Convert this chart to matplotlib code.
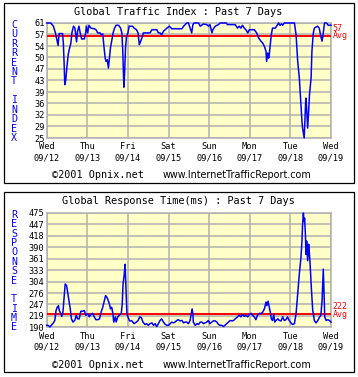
import matplotlib
matplotlib.use('Agg')
import matplotlib.pyplot as plt
import numpy as np
from matplotlib.patches import Rectangle
import matplotlib.transforms as mtrans

W, H = 358, 377

# ---- data (days since Wed 09/12 00:00) ----
day_names = ['Wed', 'Thu', 'Fri', 'Sat', 'Sun', 'Mon', 'Tue', 'Wed']
day_dates = ['09/12', '09/13', '09/14', '09/15', '09/16', '09/17', '09/18', '09/19']

traffic_ticks = [25, 29, 32, 36, 39, 43, 47, 50, 54, 57, 61]
traffic_avg = 57
traffic_days = [
    0, 0.10, 0.165, 0.215, 0.25, 0.28, 0.305, 0.39, 0.41, 0.43,
    0.445, 0.47, 0.495, 0.53, 0.555, 0.595, 0.62, 0.66, 0.695, 0.72,
    0.735, 0.76, 0.795, 0.825, 0.86, 0.925, 0.96, 0.975, 1.01, 1.04,
    1.09, 1.17, 1.215, 1.255, 1.315, 1.34, 1.38, 1.405, 1.44, 1.46,
    1.49, 1.52, 1.545, 1.57, 1.60, 1.635, 1.67, 1.71, 1.77, 1.82,
    1.85, 1.87, 1.885, 1.90, 1.92, 1.94, 1.965, 2.0, 2.03, 2.115,
    2.15, 2.21, 2.25, 2.28, 2.315, 2.35, 2.38, 2.545, 2.59, 2.71,
    2.75, 2.79, 2.83, 2.875, 2.96, 3.02, 3.08, 3.33, 3.37, 3.45,
    3.49, 3.53, 3.57, 3.60, 3.63, 3.74, 3.78, 3.86, 3.94, 3.98,
    4.02, 4.07, 4.09, 4.15, 4.23, 4.27, 4.42, 4.45, 4.64, 4.70,
    4.74, 4.78, 4.82, 4.865, 4.905, 4.95, 4.99, 5.07, 5.11, 5.17,
    5.22, 5.275, 5.32, 5.36, 5.40, 5.415, 5.44, 5.465, 5.48, 5.505,
    5.53, 5.56, 5.63, 5.66, 5.71, 5.745, 5.78, 5.81, 5.85, 6.10,
    6.14, 6.18, 6.22, 6.26, 6.285, 6.30, 6.34, 6.36, 6.38, 6.40,
    6.425, 6.45, 6.47, 6.51, 6.53, 6.565, 6.59, 6.67, 6.71, 6.75,
    6.78, 6.81, 6.84, 6.89, 6.93, 7.0]
traffic_vals = [
    61, 61, 60.0, 57.9, 55.8, 54.0, 57.7, 57.7, 54.7, 48.0,
    41.7, 43.3, 46.9, 51.1, 52.7, 54.7, 57.9, 60.0, 59.4, 56.8,
    55.1, 58.4, 60.0, 57.9, 56.0, 56.0, 57.9, 60.0, 57.9, 60.3,
    59.4, 59.2, 58.9, 57.9, 57.9, 57.3, 57.6, 54.2, 50.0, 49.0,
    49.5, 46.9, 50.0, 53.2, 55.3, 57.9, 59.4, 60.3, 60.3, 59.4,
    57.9, 53.2, 46.9, 40.9, 45.9, 53.2, 56.8, 57.9, 60.0, 60.0,
    59.4, 58.9, 57.9, 54.2, 55.3, 56.5, 57.9, 57.9, 58.9, 58.9,
    57.9, 57.9, 57.3, 58.4, 59.4, 60.0, 59.2, 59.2, 60.0, 61,
    61, 59.4, 57.9, 60.5, 61, 61, 60.0, 60.7, 60.5, 60.0,
    60.5, 57.9, 58.9, 60.0, 60.5, 61, 61, 60.5, 60.5, 59.4,
    60.0, 59.4, 60.3, 59.4, 58.9, 57.9, 58.9, 58.9, 58.9, 57.9,
    56.3, 55.3, 54.7, 53.7, 52.1, 49.0, 51.6, 50.0, 51.1, 54.2,
    57.3, 59.4, 59.4, 60.0, 61, 60.3, 60.7, 60.3, 61, 61,
    57.3, 49.0, 43.8, 35.4, 30.2, 28.1, 25, 31.2, 37.5, 34.4,
    28.1, 33.4, 38.6, 43.8, 52.1, 57.9, 59.4, 60.0, 59.4, 56.8,
    55.3, 57.9, 61, 61, 60.3, 60.3]

resp_ticks = [190, 219, 247, 276, 304, 333, 361, 390, 418, 447, 475]
resp_avg = 222
resp_days = [
    0, 0.03, 0.08, 0.115, 0.165, 0.20, 0.23, 0.26, 0.29, 0.31,
    0.35, 0.37, 0.40, 0.43, 0.455, 0.49, 0.51, 0.54, 0.56, 0.58,
    0.61, 0.645, 0.69, 0.73, 0.76, 0.80, 0.84, 0.88, 0.925, 0.965,
    1.01, 1.05, 1.09, 1.13, 1.17, 1.21, 1.26, 1.30, 1.34, 1.38,
    1.42, 1.45, 1.48, 1.50, 1.545, 1.57, 1.60, 1.63, 1.65, 1.69,
    1.71, 1.75, 1.79, 1.835, 1.86, 1.88, 1.91, 1.93, 1.95, 1.975,
    2.0, 2.04, 2.10, 2.15, 2.21, 2.25, 2.29, 2.33, 2.37, 2.42,
    2.46, 2.50, 2.545, 2.59, 2.63, 2.67, 2.71, 2.75, 2.79, 2.83,
    2.875, 2.92, 2.96, 3.0, 3.04, 3.08, 3.12, 3.16, 3.20, 3.24,
    3.285, 3.33, 3.37, 3.41, 3.45, 3.49, 3.53, 3.56, 3.58, 3.60,
    3.61, 3.655, 3.70, 3.74, 3.78, 3.82, 3.86, 3.90, 3.94, 3.98,
    4.02, 4.065, 4.105, 4.15, 4.19, 4.23, 4.27, 4.31, 4.35, 4.39,
    4.43, 4.475, 4.52, 4.56, 4.60, 4.64, 4.70, 4.74, 4.78, 4.82,
    4.865, 4.905, 4.95, 4.99, 5.03, 5.07, 5.11, 5.15, 5.19, 5.235,
    5.275, 5.32, 5.36, 5.40, 5.42, 5.45, 5.48, 5.505, 5.53, 5.56,
    5.59, 5.615, 5.645, 5.69, 5.73, 5.77, 5.81, 5.85, 5.89, 5.93,
    5.97, 6.015, 6.055, 6.10, 6.14, 6.18, 6.22, 6.26, 6.285, 6.30,
    6.32, 6.335, 6.35, 6.37, 6.385, 6.40, 6.425, 6.45, 6.47, 6.49,
    6.515, 6.55, 6.59, 6.63, 6.67, 6.71, 6.75, 6.78, 6.795, 6.81,
    6.83, 6.845, 6.88, 6.92, 6.96, 7.0]
resp_vals = [
    195, 195, 191, 195, 201, 207, 232, 240, 244, 232,
    224, 217, 228, 265, 298, 294, 281, 261, 248, 236,
    211, 203, 207, 220, 211, 211, 230, 230, 232, 220,
    224, 216, 222, 225, 216, 209, 209, 211, 228, 240,
    257, 269, 265, 261, 248, 236, 240, 224, 203, 216,
    203, 216, 220, 224, 248, 298, 323, 347, 290, 224,
    216, 206, 206, 199, 203, 207, 216, 214, 203, 197,
    199, 195, 199, 201, 195, 199, 192, 199, 207, 211,
    203, 197, 195, 195, 199, 203, 201, 203, 207, 209,
    206, 207, 201, 203, 203, 199, 207, 224, 236, 224,
    203, 195, 199, 197, 203, 203, 199, 201, 203, 207,
    199, 203, 206, 206, 203, 197, 195, 195, 192, 195,
    199, 203, 207, 206, 207, 211, 216, 220, 216, 222,
    217, 220, 216, 222, 225, 220, 216, 209, 220, 225,
    224, 228, 236, 253, 244, 255, 240, 228, 211, 207,
    222, 203, 207, 211, 207, 206, 216, 207, 209, 216,
    207, 201, 197, 199, 224, 275, 323, 364, 405, 446,
    475, 454, 462, 421, 372, 405, 356, 397, 372, 339,
    290, 232, 207, 201, 206, 214, 220, 257, 298, 335,
    273, 216, 207, 209, 207, 203]

assert len(traffic_days) == len(traffic_vals)
assert len(resp_days) == len(resp_vals)

MONO = 'DejaVu Sans Mono'
BG = '#FFFFC8'
GRID = '#B0B0B0'

fig = plt.figure(figsize=(W / 100, H / 100), dpi=100)
fig.patch.set_facecolor('white')


def fx(px):
    return px / W


def fy(py):
    return 1 - py / H


def panel(top, bottom, frame, title, side_word, ticks, days, vals, avg, avg_lbl_y):
    # outer frame
    fig.patches.append(Rectangle((fx(4), fy(frame[1])), fx(350), (frame[1] - frame[0]) / H,
                                 transform=fig.transFigure, fill=False, ec='black', lw=0.9))
    ax = fig.add_axes([fx(46.7), fy(bottom), fx(284.3), (bottom - top) / H])
    ax.set_facecolor(BG)
    lo, hi = ticks[0], ticks[-1]
    ax.set_xlim(0, 7)
    ax.set_ylim(lo, hi)
    ax.set_xticks(range(8))
    ax.set_xticklabels([f'{d}\n{t}' for d, t in zip(day_names, day_dates)],
                       fontfamily=MONO, fontsize=6.2, linespacing=1.25)
    ax.set_yticks(np.linspace(lo, hi, len(ticks)))
    ax.set_yticklabels([str(t) for t in ticks], fontfamily=MONO, fontsize=6.2)
    ax.tick_params(axis='y', length=0, pad=1.5)
    ax.tick_params(axis='x', length=0, pad=3.2)
    ax.grid(True, color=GRID, lw=1.1)
    ax.set_axisbelow(True)
    for s in ax.spines.values():
        s.set_color(GRID)
        s.set_linewidth(1.1)
    ax.axhline(avg, color='#FF0000', lw=1.4, zorder=3)
    ax.plot(days, vals, color='#0000FF', lw=1.1, zorder=4, clip_on=False)

    tr = mtrans.blended_transform_factory(ax.transAxes, ax.transData)
    ax.text(1.006, avg_lbl_y, str(avg), transform=tr, color='#FF0000',
            fontfamily=MONO, fontsize=6.0, va='center', ha='left')
    ax.text(1.006, avg, 'Avg', transform=tr, color='#FF0000',
            fontfamily=MONO, fontsize=6.0, va='center', ha='left')

    fig.text(fx(178.5), fy(frame[0] + 9), title, fontfamily=MONO, fontsize=7.4,
             ha='center', va='center')

    # vertical side label
    n = len(side_word)
    step = (bottom - top - 2) / (n - 1)
    for i, ch in enumerate(side_word):
        fig.text(fx(14), fy(top + 2 + i * step), ch, fontfamily=MONO, fontsize=7.2,
                 color='#0000FF', ha='center', va='center')

    fig.text(fx(97.5), fy(frame[1] - 7.5), '\u00a92001 Opnix.net', fontfamily=MONO,
             fontsize=7.3, ha='center', va='center')
    fig.text(fx(236.5), fy(frame[1] - 7.5), 'www.InternetTrafficReport.com',
             fontfamily='DejaVu Sans', fontsize=6.9, ha='center', va='center')
    return ax


panel(23, 138, (3, 183), 'Global Traffic Index : Past 7 Days', 'CURRENT INDEX',
      traffic_ticks, traffic_days, traffic_vals, traffic_avg, 59.4)
panel(213, 327.3, (192, 372), 'Global Response Time(ms) : Past 7 Days', 'RESPONSE TIME',
      resp_ticks, resp_days, resp_vals, resp_avg, 243)

fig.savefig('out.png', dpi=100)
